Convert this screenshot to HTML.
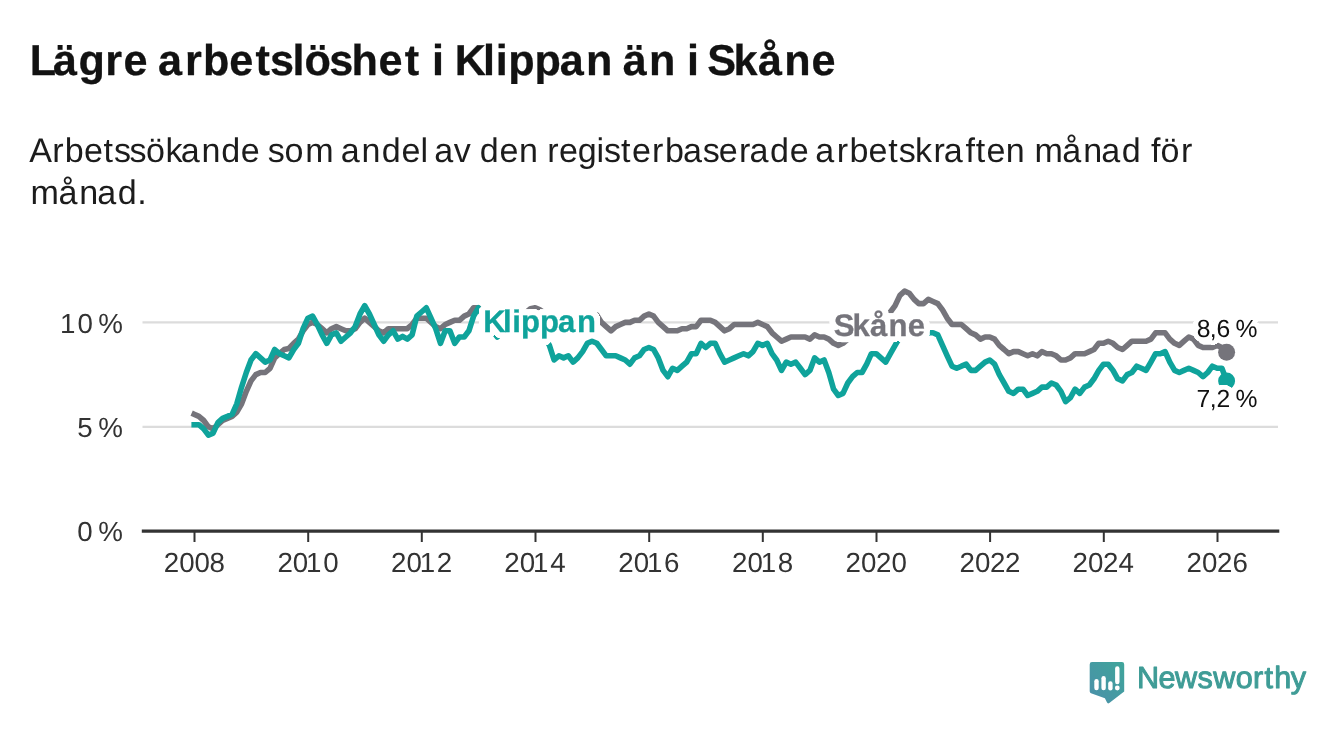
<!DOCTYPE html>
<html lang="sv">
<head>
<meta charset="utf-8">
<title>Lägre arbetslöshet i Klippan än i Skåne</title>
<style>
html,body{margin:0;padding:0;background:#fff;}
body{width:1340px;height:734px;overflow:hidden;position:relative;font-family:"Liberation Sans","DejaVu Sans",sans-serif;}
svg{position:absolute;left:0;top:0;display:block;filter:blur(0.55px);}
text{font-family:"Liberation Sans","DejaVu Sans",sans-serif;white-space:pre;text-rendering:geometricPrecision;}
.title{font-weight:700;fill:#121212;stroke:#121212;stroke-width:.3px;stroke-linejoin:round;}
.sub{fill:#1c1c1c;}
.tick{fill:#333;}
.ann{fill:#111;filter:url(#haloA);}
.lbl{font-weight:700;filter:url(#haloL);}
.k{fill:#0fa39b;stroke:#0fa39b;stroke-width:.3px;}
.s{fill:#75747b;stroke:#75747b;stroke-width:.3px;}
.logo{font-weight:400;fill:#3f9c96;stroke:#3f9c96;stroke-width:1px;stroke-linejoin:round;}

.ln{fill:none;stroke-width:5.6;stroke-linejoin:round;stroke-linecap:square;}
</style>
</head>
<body>
<svg width="1340" height="734" viewBox="0 0 1340 734">
<defs>
<filter id="haloL" x="-20%" y="-60%" width="140%" height="220%" color-interpolation-filters="sRGB"><feMorphology in="SourceAlpha" operator="dilate" radius="6 2" result="m0"/><feMorphology in="SourceAlpha" operator="dilate" radius="5 3" result="m1"/><feMorphology in="SourceAlpha" operator="dilate" radius="4 4" result="m2"/><feMorphology in="SourceAlpha" operator="dilate" radius="3 5" result="m3"/><feMorphology in="SourceAlpha" operator="dilate" radius="2 6" result="m4"/><feMerge><feMergeNode in="m0"/><feMergeNode in="m1"/><feMergeNode in="m2"/><feMergeNode in="m3"/><feMergeNode in="m4"/></feMerge><feGaussianBlur stdDeviation="0.6"/><feComponentTransfer><feFuncA type="linear" slope="3" intercept="-1"/></feComponentTransfer><feColorMatrix type="matrix" values="0 0 0 0 1  0 0 0 0 1  0 0 0 0 1  0 0 0 1 0" result="h"/><feMerge><feMergeNode in="h"/><feMergeNode in="SourceGraphic"/></feMerge></filter>
<filter id="haloA" x="-20%" y="-60%" width="140%" height="220%" color-interpolation-filters="sRGB"><feMorphology in="SourceAlpha" operator="dilate" radius="5 1" result="m0"/><feMorphology in="SourceAlpha" operator="dilate" radius="4 3" result="m1"/><feMorphology in="SourceAlpha" operator="dilate" radius="3 4" result="m2"/><feMorphology in="SourceAlpha" operator="dilate" radius="1 5" result="m3"/><feMerge><feMergeNode in="m0"/><feMergeNode in="m1"/><feMergeNode in="m2"/><feMergeNode in="m3"/></feMerge><feGaussianBlur stdDeviation="0.6"/><feComponentTransfer><feFuncA type="linear" slope="3" intercept="-1"/></feComponentTransfer><feColorMatrix type="matrix" values="0 0 0 0 1  0 0 0 0 1  0 0 0 0 1  0 0 0 1 0" result="h"/><feMerge><feMergeNode in="h"/><feMergeNode in="SourceGraphic"/></feMerge></filter>
<linearGradient id="lg" x1="1" y1="0" x2="0" y2="1">
<stop offset="0" stop-color="#3fa59a"/>
<stop offset="1" stop-color="#4b8faa"/>
</linearGradient>
</defs>
<rect width="1340" height="734" fill="#ffffff"/>
<g id="title">
<text class="title" y="75" font-size="43.18" x="29.8 53.1 78.6 105.3 123.6 140.8 158.1 185 203 229.3 255.4 270.1 292.6 304.6 329.2 351.5 378.6 404.8 418.5 432.1 443.4 454.7 483 495.8 508.2 534.4 559.7 586.1 604.4 622.8 649.1 668 686.9 697 707.2 733.6 758 784.3 811.4">Lägre arbetslöshet i Klippan än i Skåne</text>
</g>
<g id="subtitle">
<text class="sub" y="162" font-size="34.09" x="29.2 52.2 64.8 84 103.6 114 129.6 146 165.6 180.8 201.4 221.3 240.7 254.2 267.7 284.4 305.2 323 340.8 361.6 381.7 401.4 420.6 427.4 434.3 453.8 466.7 479.7 499.4 519 533.1 547.2 559.1 577.8 596.4 604.1 621.1 631.9 652.1 665 682.9 702.8 718.7 739 749.4 770 789.7 802.5 815.3 836.7 849.4 868.6 888.3 898.8 915.1 933.5 943.8 965.4 975.8 986.5 1005.8 1020.1 1034.4 1062.3 1083.2 1101.2 1121.8 1136.4 1150.9 1160.5 1181">Arbetssökande som andel av den registerbaserade arbetskraften månad för</text>
<text class="sub" y="204" font-size="34.09" x="30.6 58.5 79.3 97.2 117.7 137.3">månad.</text>
</g>
<g id="grid" stroke="#dcdcdc" stroke-width="2.3">
<line x1="142.5" x2="1278" y1="322.4" y2="322.4"/>
<line x1="142.5" x2="1278" y1="426.8" y2="426.8"/>
</g>
<g id="series">
<path class="ln" stroke="#75747b" d="M194.2,414.3L198.9,416.4L203.7,420.5L208.4,426.8L213.1,428.9L217.9,424.7L222.6,420.5L227.4,418.4L232.1,416.4L236.8,412.2L241.6,403.8L246.3,391.3L251.0,380.9L255.8,374.6L260.5,372.5L265.2,372.5L270.0,368.3L274.7,357.9L279.4,353.7L284.2,349.5L288.9,348.5L293.7,343.3L298.4,339.1L303.1,330.8L307.9,324.5L312.6,322.4L317.3,324.5L322.1,328.7L326.8,332.8L331.5,328.7L336.3,326.6L341.0,328.7L345.8,330.8L350.5,330.8L355.2,328.7L360.0,322.4L364.7,318.2L369.4,322.4L374.2,326.6L378.9,330.8L383.6,332.8L388.4,328.7L393.1,328.7L397.8,328.7L402.6,328.7L407.3,328.7L412.1,324.5L416.8,318.2L421.5,318.2L426.3,318.2L431.0,322.4L435.7,326.6L440.5,328.7L445.2,324.5L449.9,322.4L454.7,320.3L459.4,320.3L464.2,316.1L468.9,314.0L473.6,307.8L478.4,307.8L483.1,312.0L487.8,312.0L492.6,312.0L497.3,312.0L502.0,312.0L506.8,312.0L511.5,312.0L516.2,312.0L521.0,312.0L525.7,312.6L530.5,308.8L535.2,307.8L539.9,309.9L544.7,313.0L549.4,316.1L554.1,316.1L558.9,316.1L563.6,316.1L568.3,316.1L573.1,316.1L577.8,316.1L582.6,316.1L587.3,316.1L592.0,316.1L596.8,315.1L601.5,322.4L606.2,326.6L611.0,330.8L615.7,326.6L620.4,324.5L625.2,322.4L629.9,322.4L634.6,320.3L639.4,320.3L644.1,316.1L648.9,314.0L653.6,316.1L658.3,322.4L663.1,326.6L667.8,330.8L672.5,330.8L677.3,330.8L682.0,328.7L686.7,328.7L691.5,326.6L696.2,326.6L701.0,320.3L705.7,320.3L710.4,320.3L715.2,322.4L719.9,326.6L724.6,330.8L729.4,328.7L734.1,324.5L738.8,324.5L743.6,324.5L748.3,324.5L753.0,324.5L757.8,322.4L762.5,324.5L767.3,326.6L772.0,332.8L776.7,337.0L781.5,341.2L786.2,339.1L790.9,337.0L795.7,337.0L800.4,337.0L805.1,337.0L809.9,339.1L814.6,334.9L819.4,337.0L824.1,337.0L828.8,339.1L833.6,343.3L838.3,345.4L843.0,343.3L847.8,339.1L852.5,332.8L857.2,330.8L862.0,334.9L866.7,332.8L871.4,330.8L876.2,328.7L880.9,326.6L885.7,322.4L890.4,312.0L895.1,305.7L899.9,295.3L904.6,291.1L909.3,293.2L914.1,299.4L918.8,303.6L923.5,303.6L928.3,299.4L933.0,301.5L937.8,303.6L942.5,309.9L947.2,318.2L952.0,324.5L956.7,324.5L961.4,324.5L966.2,328.7L970.9,332.8L975.6,334.9L980.4,339.1L985.1,337.0L989.8,337.0L994.6,339.1L999.3,345.4L1004.1,349.5L1008.8,353.7L1013.5,351.6L1018.3,351.6L1023.0,353.7L1027.7,355.8L1032.5,353.7L1037.2,355.8L1041.9,351.6L1046.7,353.7L1051.4,353.7L1056.2,355.8L1060.9,360.0L1065.6,360.0L1070.4,357.9L1075.1,353.7L1079.8,353.7L1084.6,353.7L1089.3,351.6L1094.0,349.5L1098.8,343.3L1103.5,343.3L1108.2,341.2L1113.0,343.3L1117.7,347.5L1122.5,349.5L1127.2,345.4L1131.9,341.2L1136.7,341.2L1141.4,341.2L1146.1,341.2L1150.9,339.1L1155.6,332.8L1160.3,332.8L1165.1,332.8L1169.8,339.1L1174.6,343.3L1179.3,345.4L1184.0,341.2L1188.8,337.0L1193.5,339.1L1198.2,345.4L1203.0,347.5L1207.7,347.5L1212.4,347.5L1217.2,345.4L1221.9,347.5L1226.6,352.3"/>
<path class="ln" stroke="#0fa39b" d="M194.2,424.7L198.9,424.7L203.7,428.9L208.4,435.2L213.1,433.1L217.9,422.6L222.6,418.4L227.4,416.4L232.1,414.3L236.8,403.8L241.6,387.1L246.3,372.5L251.0,360.0L255.8,353.7L260.5,357.9L265.2,362.1L270.0,360.0L274.7,349.5L279.4,353.7L284.2,355.8L288.9,357.9L293.7,349.5L298.4,343.3L303.1,328.7L307.9,318.2L312.6,316.1L317.3,324.5L322.1,334.9L326.8,343.3L331.5,334.9L336.3,332.8L341.0,341.2L345.8,337.0L350.5,332.8L355.2,326.6L360.0,314.0L364.7,305.7L369.4,314.0L374.2,324.5L378.9,334.9L383.6,341.2L388.4,334.9L393.1,330.8L397.8,339.1L402.6,336.4L407.3,339.1L412.1,334.9L416.8,316.1L421.5,312.0L426.3,307.8L431.0,318.2L435.7,328.7L440.5,343.3L445.2,330.8L449.9,330.8L454.7,343.3L459.4,337.0L464.2,337.0L468.9,330.8L473.6,316.1L478.4,307.8L483.1,316.1L487.8,324.5L492.6,330.8L497.3,337.0L502.0,330.8L506.8,326.6L511.5,326.6L516.2,328.7L521.0,328.7L525.7,330.8L530.5,330.8L535.2,332.8L539.9,334.9L544.7,337.0L549.4,345.4L554.1,360.0L558.9,355.8L563.6,357.9L568.3,355.8L573.1,362.1L577.8,357.9L582.6,351.6L587.3,343.3L592.0,341.2L596.8,343.3L601.5,349.5L606.2,355.8L611.0,355.8L615.7,355.8L620.4,357.9L625.2,360.0L629.9,364.2L634.6,357.9L639.4,355.8L644.1,349.5L648.9,347.5L653.6,349.5L658.3,357.9L663.1,370.4L667.8,376.7L672.5,368.3L677.3,370.4L682.0,366.2L686.7,362.1L691.5,353.7L696.2,353.7L701.0,343.3L705.7,347.5L710.4,343.3L715.2,343.3L719.9,353.7L724.6,362.1L729.4,360.0L734.1,357.9L738.8,355.8L743.6,353.7L748.3,355.8L753.0,351.6L757.8,343.3L762.5,345.4L767.3,343.3L772.0,353.7L776.7,360.0L781.5,370.4L786.2,362.1L790.9,364.2L795.7,362.1L800.4,368.3L805.1,374.6L809.9,370.4L814.6,357.9L819.4,362.1L824.1,360.0L828.8,372.5L833.6,389.2L838.3,395.5L843.0,393.4L847.8,383.0L852.5,376.7L857.2,372.5L862.0,372.5L866.7,364.2L871.4,353.7L876.2,353.7L880.9,357.9L885.7,362.1L890.4,353.7L895.1,345.4L899.9,337.0L904.6,332.8L909.3,332.8L914.1,332.8L918.8,332.8L923.5,332.8L928.3,332.8L933.0,332.8L937.8,334.9L942.5,345.4L947.2,355.8L952.0,366.2L956.7,368.3L961.4,366.2L966.2,364.2L970.9,370.4L975.6,370.4L980.4,366.2L985.1,362.1L989.8,360.0L994.6,364.2L999.3,374.6L1004.1,383.0L1008.8,391.3L1013.5,393.4L1018.3,389.2L1023.0,389.2L1027.7,395.5L1032.5,393.4L1037.2,391.3L1041.9,387.1L1046.7,387.1L1051.4,383.0L1056.2,385.0L1060.9,391.3L1065.6,401.7L1070.4,397.6L1075.1,389.2L1079.8,393.4L1084.6,387.1L1089.3,385.0L1094.0,378.8L1098.8,370.4L1103.5,364.2L1108.2,364.2L1113.0,370.4L1117.7,378.8L1122.5,380.9L1127.2,374.6L1131.9,372.5L1136.7,366.2L1141.4,368.3L1146.1,370.4L1150.9,362.1L1155.6,353.7L1160.3,353.7L1165.1,351.6L1169.8,362.1L1174.6,370.4L1179.3,372.5L1184.0,370.4L1188.8,368.3L1193.5,370.4L1198.2,372.5L1203.0,376.7L1207.7,372.5L1212.4,366.2L1217.2,368.3L1221.9,368.3L1226.6,380.9"/>
<circle cx="1226.6" cy="352.3" r="8.5" fill="#75747b"/>
<circle cx="1226.6" cy="380.9" r="8.5" fill="#0fa39b"/>
</g>
<g id="labels">
<text class="lbl k" y="332" font-size="31.1" x="483.3 503 512.2 521 539.9 558 577">Klippan</text>
<text class="lbl s" y="336" font-size="31.1" x="833.7 852.6 869.9 888.5 907.8">Skåne</text>
</g>
<g id="annotations">
<text class="ann" y="337" font-size="24.73" x="1196.7 1209.7 1216.5 1230.3 1235.5">8,6 %</text>
<text class="ann" y="407" font-size="24.73" x="1196.6 1209.7 1216.6 1230.3 1235.5">7,2 %</text>
</g>
<g id="axis">
<line x1="141.8" x2="1279.3" y1="531.2" y2="531.2" stroke="#333" stroke-width="3.2"/>
<g stroke="#333" stroke-width="2">
<line x1="194.5" x2="194.5" y1="531" y2="542"/>
<line x1="308.2" x2="308.2" y1="531" y2="542"/>
<line x1="421.8" x2="421.8" y1="531" y2="542"/>
<line x1="535.5" x2="535.5" y1="531" y2="542"/>
<line x1="649.2" x2="649.2" y1="531" y2="542"/>
<line x1="762.8" x2="762.8" y1="531" y2="542"/>
<line x1="876.5" x2="876.5" y1="531" y2="542"/>
<line x1="990.1" x2="990.1" y1="531" y2="542"/>
<line x1="1103.8" x2="1103.8" y1="531" y2="542"/>
<line x1="1217.5" x2="1217.5" y1="531" y2="542"/>
</g>
<g id="yticks">
<text class="tick" y="333" font-size="27.73" x="59.9 77.4 92.7 98.3">10 %</text>
<text class="tick" y="437" font-size="27.73" x="77.3 92.7 98.3">5 %</text>
<text class="tick" y="541" font-size="27.73" x="77.3 92.7 98.3">0 %</text>
</g>
<g id="xticks">
<text class="tick" y="572" font-size="27.73" x="163.8 179.3 194.5 209.5">2008</text>
<text class="tick" y="572" font-size="27.73" x="277.4 292.8 305.9 323.3">2010</text>
<text class="tick" y="572" font-size="27.73" x="391.1 406.6 419.7 436.8">2012</text>
<text class="tick" y="572" font-size="27.73" x="504.3 519.8 532.9 550.2">2014</text>
<text class="tick" y="572" font-size="27.73" x="618.3 633.8 646.9 664.1">2016</text>
<text class="tick" y="572" font-size="27.73" x="732.1 747.6 760.7 777.8">2018</text>
<text class="tick" y="572" font-size="27.73" x="845.6 861.1 876.1 891.6">2020</text>
<text class="tick" y="572" font-size="27.73" x="959.4 974.9 989.9 1005.1">2022</text>
<text class="tick" y="572" font-size="27.73" x="1072.6 1088.1 1103 1118.5">2024</text>
<text class="tick" y="572" font-size="27.73" x="1186.6 1202.1 1217.1 1232.4">2026</text>
</g>
</g>
<g id="logo">
<path fill="url(#lg)" d="M1092,662.1 H1121.9 a2.3,2.3 0 0 1 2.3,2.3 V691.4 L1109.3,703 a1.6,1.6 0 0 1 -2.4,-0.7 L1104.9,698.2 L1091,693.2 a2,2 0 0 1 -1.3,-1.9 V664.4 a2.3,2.3 0 0 1 2.3,-2.3 Z"/>
<g stroke="#fff" stroke-width="4.4" stroke-linecap="round" fill="none">
<line x1="1096.5" x2="1096.5" y1="681.2" y2="688.1"/>
<line x1="1103.6" x2="1103.6" y1="678.2" y2="688.1"/>
<line x1="1110.4" x2="1110.4" y1="683.4" y2="688.3"/>
<line x1="1117.3" x2="1117.3" y1="668.5" y2="682"/>
</g>
<circle cx="1117.3" cy="688" r="2.4" fill="#fff"/>
<text class="logo" y="688" font-size="30.59" x="1137 1158.5 1175.1 1197.5 1213.2 1235.7 1253 1264.5 1274.2 1290.8">Newsworthy</text>
</g>
</svg>
</body>
</html>
